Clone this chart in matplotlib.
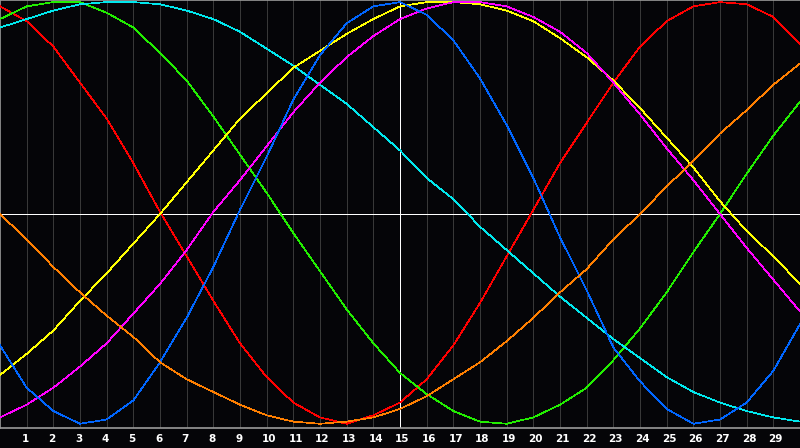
import matplotlib
matplotlib.use('Agg')
import matplotlib.pyplot as plt
import matplotlib.transforms as mtransforms

x = list(range(31))

red = [0.98, 0.91, 0.79, 0.62, 0.45, 0.24, 0.01, -0.20, -0.41, -0.61, -0.77,
       -0.89, -0.96, -0.99, -0.95, -0.89, -0.78, -0.62, -0.42, -0.20, 0.02,
       0.24, 0.43, 0.62, 0.79, 0.91, 0.98, 1.00, 0.99, 0.93, 0.80]
green = [0.92, 0.98, 1.00, 1.00, 0.95, 0.88, 0.76, 0.63, 0.46, 0.28, 0.10,
         -0.09, -0.27, -0.45, -0.61, -0.75, -0.85, -0.93, -0.98, -0.99, -0.96,
         -0.90, -0.82, -0.69, -0.54, -0.37, -0.18, 0.00, 0.19, 0.37, 0.53]
cyan = [0.88, 0.92, 0.96, 0.99, 1.00, 1.00, 0.99, 0.96, 0.92, 0.86, 0.78,
        0.70, 0.61, 0.52, 0.41, 0.30, 0.17, 0.07, -0.06, -0.17, -0.28,
        -0.39, -0.49, -0.59, -0.68, -0.77, -0.84, -0.89, -0.93, -0.96, -0.98]
yellow = [-0.76, -0.66, -0.55, -0.41, -0.28, -0.14, 0.00, 0.15, 0.30, 0.45, 0.57,
          0.69, 0.77, 0.85, 0.92, 0.98, 1.00, 1.00, 0.99, 0.96, 0.91,
          0.83, 0.74, 0.63, 0.50, 0.36, 0.22, 0.06, -0.08, -0.20, -0.33]
magenta = [-0.96, -0.90, -0.82, -0.72, -0.61, -0.47, -0.33, -0.17, 0.01, 0.16, 0.32,
           0.48, 0.62, 0.74, 0.84, 0.92, 0.97, 1.00, 1.00, 0.98, 0.93,
           0.86, 0.76, 0.62, 0.47, 0.31, 0.16, 0.00, -0.16, -0.31, -0.46]
blue = [-0.62, -0.82, -0.93, -0.99, -0.97, -0.88, -0.70, -0.49, -0.25, 0.02, 0.27,
        0.54, 0.75, 0.90, 0.98, 1.00, 0.94, 0.82, 0.64, 0.42, 0.17,
        -0.11, -0.36, -0.63, -0.79, -0.92, -0.99, -0.97, -0.89, -0.74, -0.52]
orange = [0.00, -0.12, -0.25, -0.37, -0.48, -0.58, -0.70, -0.78, -0.84, -0.90, -0.95,
          -0.98, -0.99, -0.98, -0.96, -0.92, -0.86, -0.78, -0.70, -0.60, -0.49,
          -0.37, -0.26, -0.12, 0.00, 0.13, 0.25, 0.38, 0.49, 0.61, 0.71]

series = [
    (red, '#ff0000'),
    (green, '#22ee00'),
    (cyan, '#00e8ee'),
    (yellow, '#ffff00'),
    (magenta, '#ff00ff'),
    (blue, '#0066ff'),
    (orange, '#ff7f00'),
]

tick_labels = [str(i) for i in range(1, 30)]

bg = '#050508'
lw = 0.5
fig = plt.figure(figsize=(8, 4.48), dpi=100, facecolor=bg)
ax = fig.add_axes([0, 20 / 448, 1, 428 / 448])
ax.set_facecolor(bg)
ax.set_xlim(0, 30)
ax.set_ylim(-1.01, 1.01)

for i in range(1, 30):
    ax.axvline(i, color='#383838', lw=lw, antialiased=False, zorder=1)
ax.axhline(0, color='white', lw=lw, antialiased=False, zorder=2)
ax.axvline(15, color='white', lw=lw, antialiased=False, zorder=2)

for vals, col in series:
    ax.plot(x, vals, color=col, lw=lw, antialiased=False, zorder=3)

ax.set_xticks([])
ax.set_yticks([])
for side in ['left', 'top', 'bottom']:
    ax.spines[side].set_color('#9a9a9a')
    ax.spines[side].set_linewidth(1.2)
ax.spines['right'].set_visible(False)

trans = mtransforms.blended_transform_factory(ax.transData, ax.transAxes)
off = mtransforms.ScaledTranslation(-5 / 100, -11 / 100, fig.dpi_scale_trans)
for i, lab in enumerate(tick_labels):
    ax.text(i + 1, 0, lab, transform=trans + off, color='white', fontsize=7.5,
            fontweight='bold', ha='left', va='center', family='DejaVu Sans')

fig.savefig('out.png', dpi=100, facecolor=bg)
